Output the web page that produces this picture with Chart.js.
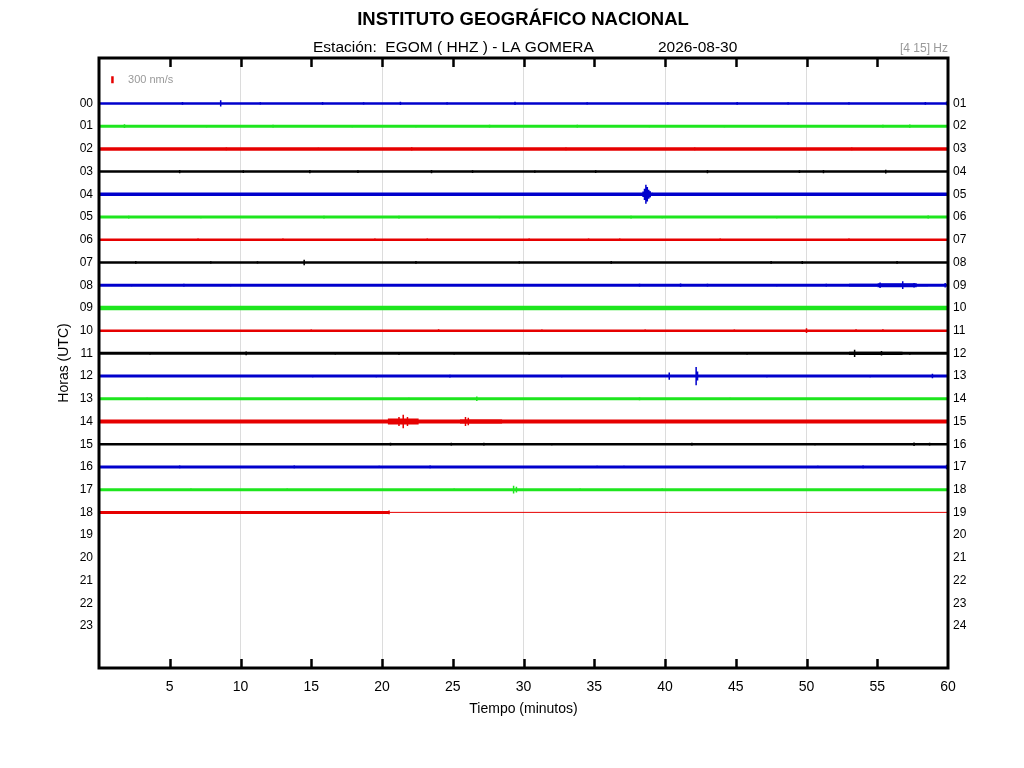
<!DOCTYPE html>
<html>
<head>
<meta charset="utf-8">
<title>EGOM helicorder</title>
<script src="https://cdn.jsdelivr.net/npm/chart.js@4.4.1/dist/chart.umd.min.js"></script>
<style>
  html, body { margin: 0; padding: 0; background: #fff; }
  #wrap { width: 1024px; height: 768px; }
</style>
</head>
<body>
<div id="wrap"><canvas id="seismo" width="1024" height="768"></canvas></div>
<script>
'use strict';

// hour rows (left) and the hour each row ends in (right)
const hourLabels = ['00','01','02','03','04','05','06','07','08','09','10','11',
                    '12','13','14','15','16','17','18','19','20','21','22','23'];
const nextHourLabels = ['01','02','03','04','05','06','07','08','09','10','11','12',
                        '13','14','15','16','17','18','19','20','21','22','23','24'];
const minuteTicks = [5, 10, 15, 20, 25, 30, 35, 40, 45, 50, 55, 60];

// recorded rows and the minute where each recorded trace stops
const traceHours = [0,1,2,3,4,5,6,7,8,9,10,11,12,13,14,15,16,17,18];
const traceEnd   = [60,60,60,60,60,60,60,60,60,60,60,60,60,60,60,60,60,60,20.5];
// flat (no signal) part of the last row: [hour, from, to]
const flatParts = [[18, 20.5, 60]];

// spikes: [hour, minute, half amplitude in row units]
const spikes = [
  [0, 8.6, 0.14], [0, 5.9, 0.06], [0, 11.4, 0.05], [0, 15.8, 0.06], [0, 18.7, 0.05], [0, 21.3, 0.07],
  [0, 29.4, 0.07], [0, 34.5, 0.05], [0, 45.1, 0.06], [0, 53.0, 0.05], [0, 58.4, 0.06], [0, 59.9, 0.08],
  [0, 24.6, 0.05], [0, 40.2, 0.05], [0, 48.7, 0.05],
  [1, 1.8, 0.08], [1, 7.6, 0.05], [1, 12.3, 0.06], [1, 27.6, 0.06], [1, 33.8, 0.06], [1, 44.2, 0.05],
  [1, 55.4, 0.06], [1, 57.3, 0.07], [1, 17.9, 0.05], [1, 22.4, 0.05], [1, 38.9, 0.05], [1, 49.6, 0.05],
  [2, 9.0, 0.06], [2, 22.1, 0.07], [2, 33.0, 0.06], [2, 42.1, 0.06], [2, 53.2, 0.06], [2, 15.5, 0.05],
  [3, 5.7, 0.07], [3, 10.2, 0.06], [3, 14.9, 0.07], [3, 18.3, 0.06], [3, 23.5, 0.07], [3, 26.4, 0.06],
  [3, 35.1, 0.06], [3, 43.0, 0.07], [3, 49.5, 0.06], [3, 51.2, 0.07], [3, 55.6, 0.08], [3, 30.8, 0.05],
  [4, 13.9, 0.06], [4, 16.9, 0.05], [4, 27.7, 0.06], [4, 44.5, 0.05], [4, 4.6, 0.05], [4, 50.8, 0.05],
  [4, 38.45, 0.12], [4, 38.55, 0.25], [4, 38.65, 0.42], [4, 38.75, 0.32], [4, 38.85, 0.2], [4, 38.95, 0.12], [4, 39.1, 0.07],
  [5, 2.1, 0.06], [5, 7.2, 0.05], [5, 15.9, 0.06], [5, 21.2, 0.06], [5, 37.6, 0.06], [5, 39.8, 0.05], [5, 58.6, 0.07],
  [5, 28.3, 0.05], [5, 47.9, 0.05],
  [6, 7.0, 0.05], [6, 13.0, 0.05], [6, 19.5, 0.05], [6, 23.2, 0.06], [6, 30.4, 0.06], [6, 34.6, 0.06],
  [6, 36.8, 0.05], [6, 43.9, 0.05], [6, 53.0, 0.06],
  [7, 2.6, 0.06], [7, 7.9, 0.05], [7, 14.5, 0.12], [7, 22.4, 0.06], [7, 36.2, 0.06], [7, 47.5, 0.06],
  [7, 49.7, 0.07], [7, 56.4, 0.06], [7, 11.2, 0.05], [7, 29.7, 0.05],
  [8, 2.3, 0.05], [8, 6.0, 0.06], [8, 9.3, 0.05], [8, 38.2, 0.06], [8, 41.1, 0.07], [8, 43.0, 0.06],
  [8, 55.2, 0.12], [8, 56.8, 0.17], [8, 57.6, 0.1], [8, 59.8, 0.1], [8, 47.9, 0.05], [8, 51.4, 0.06],
  [9, 4.0, 0.08], [9, 18.5, 0.08], [9, 31.0, 0.07], [9, 46.0, 0.08], [9, 52.3, 0.07],
  [10, 15.0, 0.05], [10, 24.0, 0.06], [10, 31.3, 0.05], [10, 38.6, 0.05], [10, 50.0, 0.11],
  [10, 53.5, 0.06], [10, 55.4, 0.06], [10, 44.9, 0.05],
  [11, 10.4, 0.08], [11, 21.2, 0.06], [11, 25.1, 0.05], [11, 30.4, 0.06], [11, 53.4, 0.16],
  [11, 55.3, 0.1], [11, 57.3, 0.06], [11, 3.6, 0.05], [11, 16.7, 0.05], [11, 45.8, 0.05],
  [12, 15.1, 0.05], [12, 19.6, 0.05], [12, 24.8, 0.06], [12, 32.7, 0.05], [12, 40.3, 0.16],
  [12, 42.2, 0.4], [12, 42.3, 0.2], [12, 47.2, 0.05], [12, 54.5, 0.05], [12, 58.9, 0.1],
  [13, 3.4, 0.05], [13, 21.9, 0.05], [13, 26.7, 0.1], [13, 38.2, 0.06], [13, 44.6, 0.05],
  [14, 21.2, 0.2], [14, 21.5, 0.3], [14, 21.8, 0.2], [14, 25.9, 0.2], [14, 26.1, 0.16], [14, 33.0, 0.07],
  [14, 8.3, 0.06], [14, 40.5, 0.06], [14, 47.2, 0.06],
  [15, 20.6, 0.06], [15, 24.9, 0.06], [15, 27.2, 0.06], [15, 32.0, 0.05], [15, 41.9, 0.06],
  [15, 50.6, 0.05], [15, 57.6, 0.08], [15, 58.7, 0.06],
  [16, 5.7, 0.06], [16, 13.8, 0.06], [16, 19.8, 0.05], [16, 23.4, 0.06], [16, 35.2, 0.05],
  [16, 37.1, 0.05], [16, 50.8, 0.05], [16, 54.0, 0.06], [16, 59.9, 0.1],
  [17, 6.5, 0.05], [17, 13.3, 0.05], [17, 25.1, 0.05], [17, 29.3, 0.17], [17, 29.5, 0.13],
  [17, 34.0, 0.05], [17, 39.8, 0.05],
  [18, 3.5, 0.05], [18, 20.5, 0.08]
];

// sustained bursts: [hour, from, to, half amplitude]
const bursts = [
  [8, 53.0, 55.0, 0.06], [8, 55.0, 57.8, 0.09], [8, 57.8, 58.6, 0.05],
  [11, 53.0, 56.8, 0.07],
  [14, 20.4, 22.6, 0.13], [14, 25.5, 28.5, 0.09],
  [4, 38.5, 39.0, 0.14]
];

// amplitude of the reference bar (300 nm/s) in row units
const scaleBarAmp = 0.31;

// styles
const traceColors = ['#0000cc', '#1ee61e', '#e60000', '#000000'];
const traceWidths = [2.5, 3, 3.5, 2.5, 3.5, 3, 2.5, 2.5, 3, 4.5, 2.5, 3, 3, 3, 4, 2.5, 3, 3, 3];

const colorFor = h => traceColors[h % 4];

const datasets = [];

traceHours.forEach(h => {
  datasets.push({
    data: [{ x: 0, y: h }, { x: traceEnd[h], y: h }],
    borderColor: colorFor(h),
    borderWidth: traceWidths[h],
    pointRadius: 0
  });
});

flatParts.forEach(([h, from, to]) => {
  datasets.push({
    data: [{ x: from, y: h }, { x: to, y: h }],
    borderColor: colorFor(h),
    borderWidth: 1,
    pointRadius: 0
  });
});

bursts.forEach(([h, from, to, amp]) => {
  datasets.push({
    data: [{ x: from, y: h - amp }, { x: to, y: h - amp }],
    borderWidth: 0,
    borderColor: colorFor(h),
    backgroundColor: colorFor(h),
    fill: { value: h + amp },
    pointRadius: 0
  });
});

traceHours.forEach(h => {
  const pts = [];
  spikes.filter(s => s[0] === h).forEach(([, m, amp]) => {
    pts.push({ x: m, y: h - amp }, { x: m, y: h + amp }, { x: m, y: null });
  });
  datasets.push({
    data: pts,
    borderColor: colorFor(h),
    borderWidth: 1.5,
    pointRadius: 0,
    spanGaps: false
  });
});

// reference bar
datasets.push({
  data: [{ x: 0.95, y: -1.04 - scaleBarAmp / 2 }, { x: 0.95, y: -1.04 + scaleBarAmp / 2 }],
  borderColor: '#e60000',
  borderWidth: 2.5,
  pointRadius: 0
});

const headerPlugin = {
  id: 'header',
  afterDraw(chart) {
    const ctx = chart.ctx;
    const { x, y } = chart.scales;
    ctx.save();
    ctx.fillStyle = '#000';
    ctx.textBaseline = 'middle';
    ctx.textAlign = 'center';
    ctx.font = 'bold 18.5px "Liberation Sans", Arial, sans-serif';
    ctx.fillText('INSTITUTO GEOGRÁFICO NACIONAL', 523, 20);
    ctx.font = '15.5px "Liberation Sans", Arial, sans-serif';
    ctx.textAlign = 'left';
    ctx.fillText('Estación:  EGOM ( HHZ ) - LA GOMERA', 313, 47.5);
    ctx.fillText('2026-08-30', 658, 47.5);
    ctx.fillStyle = '#999';
    ctx.font = '12px "Liberation Sans", Arial, sans-serif';
    ctx.textAlign = 'right';
    ctx.fillText('[4 15] Hz', chart.chartArea.right, 49);
    ctx.font = '11px "Liberation Sans", Arial, sans-serif';
    ctx.textAlign = 'left';
    ctx.fillText('300 nm/s', x.getPixelForValue(2.05), y.getPixelForValue(-1.04));
    ctx.restore();
  }
};

const framePlugin = {
  id: 'frame',
  afterDatasetsDraw(chart) {
    const ctx = chart.ctx;
    const { left, right, top, bottom } = chart.chartArea;
    const xs = chart.scales.x;
    ctx.save();
    ctx.strokeStyle = '#000';
    ctx.lineWidth = 2.5;
    minuteTicks.filter(v => v < 60).forEach(v => {
      const px = Math.round(xs.getPixelForValue(v)) + 0.5;
      ctx.beginPath();
      ctx.moveTo(px, top);
      ctx.lineTo(px, top + 9);
      ctx.moveTo(px, bottom);
      ctx.lineTo(px, bottom - 9);
      ctx.stroke();
    });
    ctx.lineWidth = 3;
    ctx.strokeRect(left, top, right - left, bottom - top);
    ctx.restore();
  }
};

Chart.defaults.font.family = '"Liberation Sans", Arial, sans-serif';
Chart.defaults.color = '#000';

new Chart(document.getElementById('seismo'), {
  type: 'line',
  data: { datasets },
  options: {
    responsive: false,
    animation: false,
    devicePixelRatio: 1,
    layout: { padding: { top: 58, left: 0, right: 0, bottom: 0 } },
    plugins: { legend: { display: false }, tooltip: { enabled: false } },
    scales: {
      x: {
        type: 'linear',
        min: 0,
        max: 60,
        afterBuildTicks: s => { s.ticks = minuteTicks.map(v => ({ value: v })); },
        afterFit: s => { s.height = 100; },
        ticks: { padding: 11, font: { size: 14 }, maxRotation: 0, autoSkip: false },
        grid: {
          drawTicks: false,
          color: c => (c.tick && c.tick.value % 10 === 0 && c.tick.value < 60) ? '#dcdcdc' : 'rgba(0,0,0,0)',
          lineWidth: 1
        },
        border: { display: false },
        title: { display: true, text: 'Tiempo (minutos)', font: { size: 14 }, padding: { top: 0, bottom: 50 } }
      },
      y: {
        type: 'linear',
        position: 'left',
        min: -2.0,
        max: 24.85,
        reverse: true,
        afterBuildTicks: s => { s.ticks = hourLabels.map((_, i) => ({ value: i })); },
        afterFit: s => { s.width = 99; },
        ticks: { padding: 6, font: { size: 12 }, autoSkip: false, callback: v => hourLabels[Math.round(v)] },
        grid: { display: false, drawTicks: false, tickLength: 0 },
        border: { display: false },
        title: { display: true, text: 'Horas (UTC)', font: { size: 14 }, padding: { top: 56, bottom: 0 } }
      },
      y2: {
        type: 'linear',
        position: 'right',
        min: -2.0,
        max: 24.85,
        reverse: true,
        afterBuildTicks: s => { s.ticks = nextHourLabels.map((_, i) => ({ value: i })); },
        afterFit: s => { s.width = 76; },
        ticks: { padding: 5, font: { size: 12 }, autoSkip: false, callback: v => nextHourLabels[Math.round(v)] },
        grid: { display: false, drawTicks: false, tickLength: 0 },
        border: { display: false }
      }
    }
  },
  plugins: [headerPlugin, framePlugin]
});
</script>
</body>
</html>
